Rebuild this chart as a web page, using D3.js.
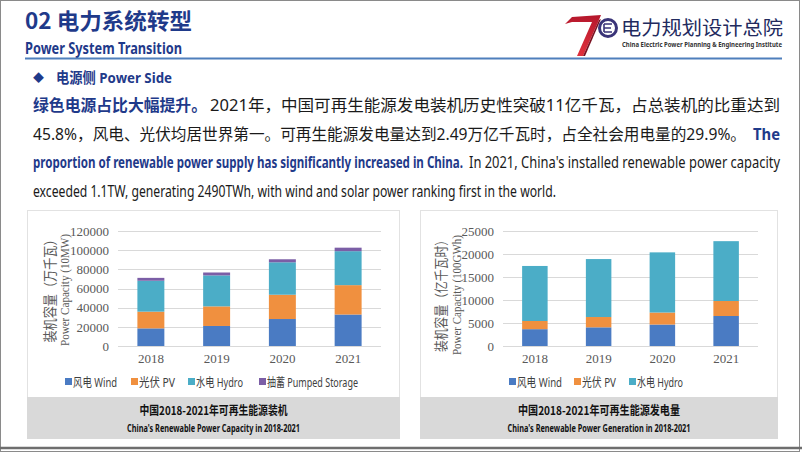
<!DOCTYPE html>
<html>
<head>
<meta charset="utf-8">
<script src="https://cdn.jsdelivr.net/npm/d3@7"></script>
<style>
  body { margin: 0; background: #fff; }
  svg { display: block; }
  .cjk { font-family: "Noto Sans CJK SC", sans-serif; }
  .narrow { font-family: "Liberation Sans Narrow", "Noto Sans", "Noto Sans CJK SC", sans-serif; }
  .serif { font-family: "Liberation Serif", "Noto Sans CJK SC", serif; }
</style>
</head>
<body>
<script>
// chart data
var years = ["2018", "2019", "2020", "2021"];

var capWind = [18400, 20900, 28150, 32850];
var capPV = [17450, 20450, 25350, 30650];
var capHydro = [32250, 32300, 33850, 35450];
var capPumped = [3000, 3050, 3150, 3650];
var capTicks = [0, 20000, 40000, 60000, 80000, 100000, 120000];

var genWind = [3660, 4060, 4665, 6520];
var genPV = [1775, 2240, 2610, 3260];
var genHydro = [11965, 12600, 13080, 13010];
var genTicks = [0, 5000, 10000, 15000, 20000, 25000];

var capLegend = ["风电 Wind", "光伏 PV", "水电 Hydro", "抽蓄 Pumped Storage"];
var genLegend = ["风电 Wind", "光伏 PV", "水电 Hydro"];
var colors = ["#4a7bc3", "#f0903f", "#4badc7", "#7b5ea6"];

var navy = "#1f3a8a";

var svg = d3.select("body").append("svg")
  .attr("width", 802)
  .attr("height", 452);

// slide frame
svg.append("rect")
  .attr("x", 0.5).attr("y", 0.5)
  .attr("width", 799).attr("height", 451)
  .attr("fill", "#fff")
  .attr("stroke", "#8a8a8a");
svg.append("line")
  .attr("x1", 0).attr("x2", 802)
  .attr("y1", 448).attr("y2", 448)
  .attr("stroke", "#6e6e6e")
  .attr("stroke-width", 2.5);

// header
svg.append("text")
  .attr("class", "cjk")
  .attr("x", 25).attr("y", 29)
  .attr("font-size", 22)
  .attr("font-weight", "bold")
  .attr("fill", navy)
  .attr("textLength", 167)
  .attr("lengthAdjust", "spacingAndGlyphs")
  .text("02 电力系统转型");

svg.append("text")
  .attr("class", "narrow")
  .attr("x", 25).attr("y", 54)
  .attr("font-size", 16)
  .attr("font-weight", "bold")
  .attr("fill", navy)
  .attr("textLength", 157)
  .attr("lengthAdjust", "spacingAndGlyphs")
  .text("Power System Transition");

svg.append("line")
  .attr("x1", 25).attr("x2", 782)
  .attr("y1", 58.5).attr("y2", 58.5)
  .attr("stroke", "#4f7fbc")
  .attr("stroke-width", 2);

// logo
var logo = svg.append("g");
var grad = svg.append("defs").append("linearGradient")
  .attr("id", "seven")
  .attr("x1", 0).attr("y1", 0).attr("x2", 0).attr("y2", 1);
grad.append("stop").attr("offset", 0).attr("stop-color", "#b5172c");
grad.append("stop").attr("offset", 1).attr("stop-color", "#e0303c");
logo.append("path")
  .attr("d", "M565,24 L572,17 L601,15 L599,20 L583,56 L577,56 L592,22 L572,22 Z")
  .attr("fill", "url(#seven)");
logo.append("path")
  .attr("d", "M599,20 L583,56 L585,56 L601,19 Z")
  .attr("fill", "#7a1020");
logo.append("circle")
  .attr("cx", 608).attr("cy", 28).attr("r", 8.5)
  .attr("fill", "#fff")
  .attr("stroke", "#3a3478")
  .attr("stroke-width", 3);
logo.append("path")
  .attr("d", "M604,24 H612 M604,28 H611 M604,32 H612 M604,24 V32")
  .attr("stroke", "#3a3478")
  .attr("stroke-width", 1.6)
  .attr("fill", "none");
logo.append("text")
  .attr("class", "cjk")
  .attr("x", 621).attr("y", 35)
  .attr("font-size", 19)
  .attr("fill", "#222a5e")
  .attr("textLength", 162)
  .attr("lengthAdjust", "spacingAndGlyphs")
  .text("电力规划设计总院");
logo.append("text")
  .attr("class", "narrow")
  .attr("x", 622).attr("y", 47)
  .attr("font-size", 6.5)
  .attr("font-weight", "bold")
  .attr("fill", "#333")
  .attr("textLength", 160)
  .attr("lengthAdjust", "spacingAndGlyphs")
  .text("China Electric Power Planning & Engineering Institute");

// section heading
svg.append("text")
  .attr("x", 33).attr("y", 82)
  .attr("font-size", 11)
  .attr("fill", navy)
  .attr("class", "cjk")
  .text("◆");
svg.append("text")
  .attr("class", "narrow")
  .attr("x", 56).attr("y", 83)
  .attr("font-size", 15)
  .attr("font-weight", "bold")
  .attr("fill", navy)
  .attr("textLength", 116)
  .attr("lengthAdjust", "spacingAndGlyphs")
  .text("电源侧 Power Side");

// paragraph, pieces placed by start x / end x
var para = [
  { t: "绿色电源占比大幅提升。", x0: 33, x1: 207, y: 111, bold: true },
  { t: "2021年，中国可再生能源发电装机历史性突破11亿千瓦，占总装机的比重达到", x0: 210, x1: 780, y: 111, bold: false },
  { t: "45.8%，风电、光伏均居世界第一。可再生能源发电量达到2.49万亿千瓦时，占全社会用电量的29.9%。", x0: 33, x1: 746, y: 140, bold: false },
  { t: "The", x0: 753, x1: 780, y: 140, bold: true },
  { t: "proportion of renewable power supply has significantly increased in China.", x0: 33, x1: 463, y: 168, bold: true },
  { t: "In 2021, China's installed renewable power capacity", x0: 469, x1: 780, y: 168, bold: false },
  { t: "exceeded 1.1TW, generating 2490TWh, with wind and solar power ranking first in the world.", x0: 33, x1: 556, y: 197, bold: false }
];
svg.selectAll("text.para")
  .data(para)
  .enter()
  .append("text")
  .attr("class", "para narrow")
  .attr("x", d => d.x0)
  .attr("y", d => d.y)
  .attr("font-size", 16)
  .attr("font-weight", d => d.bold ? "bold" : "normal")
  .attr("fill", d => d.bold ? navy : "#1a1a1a")
  .attr("textLength", d => d.x1 - d.x0)
  .attr("lengthAdjust", "spacingAndGlyphs")
  .text(d => d.t);

// one stacked chart panel
function drawPanel(opt) {
  var g = svg.append("g");

  g.append("rect")
    .attr("x", opt.px0 + 0.5).attr("y", 210.5)
    .attr("width", opt.px1 - opt.px0 - 1).attr("height", 187)
    .attr("fill", "#fff")
    .attr("stroke", "#e2e2e2");
  g.append("rect")
    .attr("x", opt.px0).attr("y", 397)
    .attr("width", opt.px1 - opt.px0).attr("height", 42)
    .attr("fill", "#d9d9d9");

  var cx = (opt.px0 + opt.px1) / 2;
  g.append("text")
    .attr("class", "cjk")
    .attr("x", cx).attr("y", 415)
    .attr("text-anchor", "middle")
    .attr("font-size", 12)
    .attr("font-weight", "bold")
    .attr("fill", "#111")
    .attr("textLength", opt.cnLen)
    .attr("lengthAdjust", "spacingAndGlyphs")
    .text(opt.cnTitle);
  g.append("text")
    .attr("class", "narrow")
    .attr("x", cx).attr("y", 432)
    .attr("text-anchor", "middle")
    .attr("font-size", 11)
    .attr("font-weight", "bold")
    .attr("fill", "#111")
    .attr("textLength", opt.enLen)
    .attr("lengthAdjust", "spacingAndGlyphs")
    .text(opt.enTitle);

  var x = d3.scaleBand()
    .domain(years)
    .range([opt.gx0, opt.gx1])
    .paddingInner(opt.pad)
    .paddingOuter(opt.pad / 2);

  var y = d3.scaleLinear()
    .domain([0, d3.max(opt.ticks)])
    .range([346, 231]);

  // gridlines
  g.selectAll("line.grid")
    .data(opt.ticks)
    .enter()
    .append("line")
    .attr("x1", opt.gx0).attr("x2", opt.gx1)
    .attr("y1", d => Math.round(y(d)) + 0.5)
    .attr("y2", d => Math.round(y(d)) + 0.5)
    .attr("stroke", "#d9d9d9");

  var leftAxis = d3.axisLeft(y)
    .tickValues(opt.ticks)
    .tickFormat(d3.format("d"))
    .tickSize(0)
    .tickPadding(9);
  var ya = g.append("g")
    .attr("transform", `translate(${opt.gx0}, 0)`)
    .call(leftAxis);
  ya.select(".domain").remove();
  ya.selectAll("text")
    .attr("class", "serif")
    .attr("font-size", 13)
    .attr("fill", "#595959");

  var bottomAxis = d3.axisBottom(x).tickSize(0).tickPadding(8);
  var xa = g.append("g")
    .attr("transform", "translate(0, 346)")
    .call(bottomAxis);
  xa.select(".domain").remove();
  xa.selectAll("text")
    .attr("class", "serif")
    .attr("font-size", 13)
    .attr("fill", "#595959");

  // stacked bars
  var rows = years.map(function(yr, i) {
    var r = { year: yr };
    opt.keys.forEach(function(k, j) { r[k] = opt.series[j][i]; });
    return r;
  });
  var stack = d3.stack().keys(opt.keys)(rows);
  g.selectAll("g.layer")
    .data(stack)
    .enter()
    .append("g")
    .attr("fill", (d, i) => colors[i])
    .selectAll("rect")
    .data(d => d)
    .enter()
    .append("rect")
    .attr("x", d => x(d.data.year))
    .attr("width", x.bandwidth())
    .attr("y", d => y(d[1]))
    .attr("height", d => y(d[0]) - y(d[1]));

  // y titles
  g.append("text")
    .attr("class", "cjk")
    .attr("transform", `translate(${opt.t1x}, ${opt.ym}) rotate(-90)`)
    .attr("text-anchor", "middle")
    .attr("font-size", 14)
    .attr("fill", "#595959")
    .attr("textLength", opt.t1len)
    .attr("lengthAdjust", "spacingAndGlyphs")
    .text(opt.yTitle1);
  g.append("text")
    .attr("class", "serif")
    .attr("transform", `translate(${opt.t2x}, ${opt.ym + 2}) rotate(-90)`)
    .attr("text-anchor", "middle")
    .attr("font-size", 12)
    .attr("fill", "#595959")
    .attr("textLength", opt.t2len)
    .attr("lengthAdjust", "spacingAndGlyphs")
    .text(opt.yTitle2);

  // legend
  var lg = g.selectAll("g.legend")
    .data(opt.legend)
    .enter()
    .append("g")
    .attr("transform", (d, i) => `translate(${opt.legendX[i]}, 382)`);
  lg.append("rect")
    .attr("x", 0).attr("y", -4)
    .attr("width", 7).attr("height", 7)
    .attr("fill", (d, i) => colors[i]);
  lg.append("text")
    .attr("class", "narrow")
    .attr("x", 8).attr("y", 4.5)
    .attr("font-size", 12.5)
    .attr("fill", "#404040")
    .attr("textLength", (d, i) => opt.legendW[i])
    .attr("lengthAdjust", "spacingAndGlyphs")
    .text(d => d);
}

drawPanel({
  px0: 27, px1: 400,
  gx0: 118, gx1: 381, pad: 0.59,
  ticks: capTicks,
  keys: ["wind", "pv", "hydro", "pumped"],
  series: [capWind, capPV, capHydro, capPumped],
  legend: capLegend,
  legendX: [65, 131, 188, 259],
  legendW: [44, 36, 47, 91],
  ym: 288,
  yTitle1: "装机容量（万千瓦）", t1x: 55, t1len: 109,
  yTitle2: "Power Capacity (10MW)", t2x: 69, t2len: 112,
  cnTitle: "中国2018-2021年可再生能源装机", cnLen: 148,
  enTitle: "China's Renewable Power Capacity in 2018-2021", enLen: 173
});

drawPanel({
  px0: 420, px1: 778,
  gx0: 503, gx1: 758, pad: 0.6,
  ticks: genTicks,
  keys: ["wind", "pv", "hydro"],
  series: [genWind, genPV, genHydro],
  legend: genLegend,
  legendX: [509, 574, 629],
  legendW: [45, 34, 46],
  ym: 293,
  yTitle1: "装机容量（亿千瓦时）", t1x: 446, t1len: 118,
  yTitle2: "Power Capacity (100GWh)", t2x: 461, t2len: 120,
  cnTitle: "中国2018-2021年可再生能源发电量", cnLen: 162,
  enTitle: "China's Renewable Power Generation in 2018-2021", enLen: 183
});
</script>
</body>
</html>
